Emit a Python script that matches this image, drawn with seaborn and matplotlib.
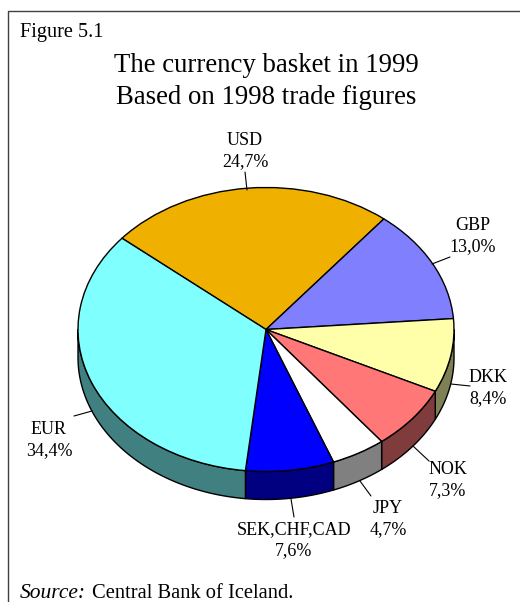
import numpy as np
import matplotlib
matplotlib.use("Agg")
import matplotlib.pyplot as plt
from matplotlib.lines import Line2D
import seaborn as sns

currencies = ['USD', 'GBP', 'DKK', 'NOK', 'JPY', 'SEK,CHF,CAD', 'EUR']
shares = [24.7, 13.0, 8.4, 7.3, 4.7, 7.6, 34.4]
share_labels = ['24,7%', '13,0%', '8,4%', '7,3%', '4,7%', '7,6%', '34,4%']
top_colors = ['#EFB000', '#8080FF', '#FFFFAA', '#FF7777', '#FFFFFF', '#0000FF', '#80FFFF']
side_colors = ['#785800', '#404080', '#808055', '#803C3C', '#808080', '#000080', '#408080']

# label centres and leader lines, in image pixels
label_xy = [(245, 151), (473, 236), (488, 388), (448, 480), (388, 519), (294, 540), (49, 440)]
leaders = [((245, 172), (247, 190)), ((450, 257), (432, 264)), ((451, 384), (470, 386)),
           ((413, 446), (429, 461)), ((360, 481), (371, 496)), ((291, 499), (294, 517)),
           ((74, 416), (92, 411))]

W, H = 520, 602
START = 140
DEPTH = 28 / 142  # rim height, in units of the vertical radius

sns.set_theme(style="white")
plt.rcParams['font.family'] = ['Liberation Serif', 'DejaVu Serif']


def px(x, y):
    return x / W, 1 - y / H


fig = plt.figure(figsize=(W / 100, H / 100), dpi=100)
fig.patch.set_facecolor('white')

# ellipse spans x 78..454 and y 187.5..471.5 in pixels
ax = fig.add_axes([78 / W, 1 - 471.5 / H, 376 / W, 284 / H])
ax.pie(shares, colors=top_colors, startangle=START, counterclock=False, radius=1,
       wedgeprops=dict(edgecolor='black', linewidth=1, zorder=3))
ax.set_aspect('auto')
ax.set_xlim(-1, 1)
ax.set_ylim(-1, 1)
ax.axis('off')

# the rim: only the part of each slice on the lower half is visible
edges = START - np.cumsum([0] + shares) / sum(shares) * 360
for a, b, col in zip(edges[:-1], edges[1:], side_colors):
    for lo, hi in [(-180, 0), (-540, -360)]:
        t1, t2 = max(b, lo), min(a, hi)
        if t2 <= t1:
            continue
        t = np.radians(np.linspace(t1, t2, 60))
        xs = np.r_[np.cos(t), np.cos(t[::-1])]
        ys = np.r_[np.sin(t), np.sin(t[::-1]) - DEPTH]
        ax.fill(xs, ys, facecolor=col, edgecolor='black', linewidth=1, clip_on=False, zorder=2)

# leaders and labels
for (p, q) in leaders:
    fig.add_artist(Line2D(*zip(px(*p), px(*q)), color='black', linewidth=0.8))
for cur, lab, (x, y) in zip(currencies, share_labels, label_xy):
    fx, fy = px(x, y)
    fig.text(fx, fy, f"{cur}\n{lab}", ha='center', va='center', fontsize=13,
             color='black', linespacing=1.25)

# headings
fig.text(*px(20, 33), 'Figure 5.1', ha='left', va='center', fontsize=14.6, color='black')
fig.text(*px(266, 65), 'The currency basket in 1999', ha='center', va='center', fontsize=19.3, color='black')
fig.text(*px(266, 97), 'Based on 1998 trade figures', ha='center', va='center', fontsize=19.3, color='black')
fig.text(*px(20, 593), 'Source:', ha='left', va='center', fontsize=15.5, style='italic', color='black')
fig.text(*px(92, 593), 'Central Bank of Iceland.', ha='left', va='center', fontsize=14.8, color='black')

# frame
fig.add_artist(Line2D(*zip(px(7.5, 602), px(7.5, 10.5), px(520, 10.5)), color='#404040', linewidth=1))

fig.savefig('out.png', dpi=100)
